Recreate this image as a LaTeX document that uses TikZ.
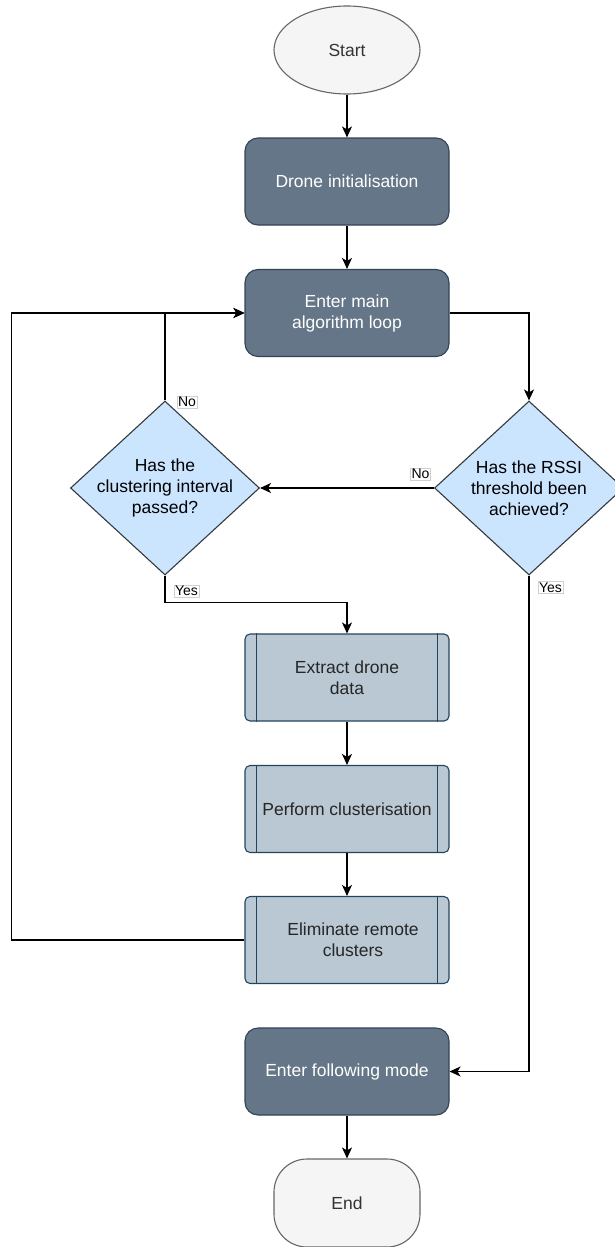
\documentclass[tikz,border=0pt]{standalone}
\usepackage{fontspec}
\setmainfont{Liberation Sans}
\usepackage{tikz}
\usetikzlibrary{arrows.meta,shapes.geometric}
\definecolor{darkfill}{HTML}{647687}
\definecolor{darkline}{HTML}{314354}
\definecolor{decfill}{HTML}{CCE5FF}
\definecolor{decline}{HTML}{36393D}
\definecolor{predeffill}{HTML}{BAC8D3}
\definecolor{predefline}{HTML}{23445D}
\definecolor{termfill}{HTML}{F5F5F5}
\definecolor{termline}{HTML}{666666}
\definecolor{termtext}{HTML}{333333}
\definecolor{lblline}{HTML}{D0D0D0}

\begin{document}
\begin{tikzpicture}[x=1pt,y=-1pt,
  every node/.style={font=\fontsize{17.5pt}{21pt}\selectfont, align=center},
  term/.style={draw=termline, fill=termfill, text=termtext, line width=1.1pt,
    minimum width=146pt, minimum height=88pt, inner sep=0pt},
  action/.style={draw=darkline, fill=darkfill, text=white, line width=1.1pt,
    rounded corners=13pt, minimum width=204pt, minimum height=87pt},
  predef/.style={draw=predefline, fill=predeffill, text=black!85, line width=1.1pt,
    rounded corners=5pt, minimum width=204pt, minimum height=87pt},
  decision/.style={diamond, draw=decline, fill=decfill, line width=1.1pt,
    minimum width=189pt, minimum height=174pt, inner sep=0pt},
  lbl/.style={draw=lblline, fill=white, line width=0.5pt, inner sep=1pt,
    font=\fontsize{14pt}{16pt}\selectfont},
  flow/.style={line width=1.3pt, -{Stealth[length=11pt,width=10pt,inset=3pt]}}]
  \useasboundingbox (0,0) rectangle (615,1247);

  \node[term, ellipse] (start) at (347,50) {Start};
  \node[action] (init) at (347,181.5) {Drone initialisation};
  \node[action] (loop) at (347,313) {Enter main\\algorithm loop};
  \node[decision, label={[align=center]center:Has the\\clustering interval\\passed?}] (dL) at (165,488) {};
  \node[decision, label={[align=center]center:Has the RSSI\\threshold been\\achieved?}] (dR) at (529,488) {};
  \node[predef] (pExtract) at (347,677.5) {Extract drone\\data};
  \node[predef] (pCluster) at (347,809) {Perform clusterisation};
  \node[predef] (pElim) at (347,940) {\hspace*{12pt}Eliminate remote\\\hspace*{12pt}clusters};
  \node[action] (follow) at (347,1071.5) {Enter following mode};
  \node[term, rounded corners=33pt] (end) at (347,1203) {End};

  \foreach \n in {pExtract,pCluster,pElim}
    \draw[predefline, line width=1.1pt] ([xshift=12pt]\n.north west) -- ([xshift=12pt]\n.south west)
      ([xshift=-12pt]\n.north east) -- ([xshift=-12pt]\n.south east);

  \draw[flow] (start) -- (init);
  \draw[flow] (init) -- (loop);
  \draw[flow] (loop.east) -| (dR.north);
  \draw[flow] (dR.west) -- (dL.east);
  \draw[flow] (dL.north) |- (loop.west);
  \draw[flow] (dL.south) |- ([yshift=31pt]pExtract.north) -- (pExtract.north);
  \draw[flow] (pExtract) -- (pCluster);
  \draw[flow] (pCluster) -- (pElim);
  \draw[flow] (pElim.west) -- ++(-233,0) |- (loop.west);
  \draw[flow] (dR.south) |- (follow.east);
  \draw[flow] (follow) -- (end);

  \node[lbl] (noL) at (187,402) {No};
  \node[lbl] (yesL) at (186.5,591) {Yes};
  \node[lbl] (noR) at (420.5,474) {No};
  \node[lbl] (yesR) at (550.5,587.5) {Yes};
\end{tikzpicture}
\end{document}
